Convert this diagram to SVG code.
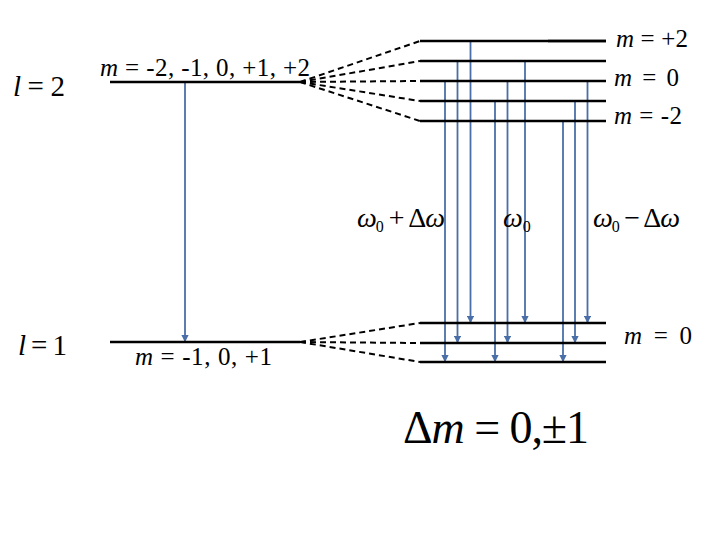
<svg xmlns="http://www.w3.org/2000/svg" width="720" height="540" viewBox="0 0 720 540">
<style>
.lvl{stroke:#000;stroke-width:2.5;fill:none}
.dash{stroke:#000;stroke-width:2;stroke-dasharray:6,4;fill:none}
.tr{stroke:#4a6fa8;stroke-width:1.8;fill:none;marker-end:url(#ah)}
text{font-family:"Liberation Serif","Times New Roman",serif;fill:#000}
.it{font-style:italic}
</style>
<defs>
<marker id="ah" viewBox="0 0 6 6" refX="5" refY="3" markerWidth="4" markerHeight="4" orient="auto">
<path d="M0,0 L6,3 L0,6 Z" fill="#4a6fa8"/>
</marker>
</defs>
<rect width="720" height="540" fill="#fff"/>
<g id="connectors">
<line class="dash" x1="300" y1="82" x2="420" y2="41"/>
<line class="dash" x1="300" y1="82" x2="420" y2="61"/>
<line class="dash" x1="300" y1="82" x2="420" y2="81"/>
<line class="dash" x1="300" y1="82" x2="420" y2="101"/>
<line class="dash" x1="300" y1="82" x2="420" y2="121"/>
<line class="dash" x1="300" y1="342" x2="420" y2="323"/>
<line class="dash" x1="300" y1="342" x2="420" y2="343"/>
<line class="dash" x1="300" y1="342" x2="420" y2="362"/>
<line class="tr" x1="185" y1="83" x2="185" y2="341"/>
<line class="tr" x1="445" y1="82" x2="445" y2="361"/>
<line class="tr" x1="457.5" y1="62" x2="457.5" y2="342"/>
<line class="tr" x1="470.5" y1="42" x2="470.5" y2="322"/>
<line class="tr" x1="495" y1="102" x2="495" y2="361"/>
<line class="tr" x1="507.5" y1="82" x2="507.5" y2="342"/>
<line class="tr" x1="525" y1="62" x2="525" y2="322"/>
<line class="tr" x1="563" y1="122" x2="563" y2="361"/>
<line class="tr" x1="575" y1="102" x2="575" y2="342"/>
<line class="tr" x1="587.5" y1="82" x2="587.5" y2="322"/>
</g>
<g id="l2">
<line class="lvl" x1="110" y1="82" x2="300" y2="82"/>
<text x="13" y="96" font-size="29" textLength="52" lengthAdjust="spacing"><tspan class="it">l</tspan> = 2</text>
<text x="100" y="76" font-size="25" textLength="210" lengthAdjust="spacing"><tspan class="it">m</tspan> = -2, -1, 0, +1, +2</text>
</g>
<g id="l1">
<line class="lvl" x1="110" y1="342" x2="300" y2="342"/>
<text x="18" y="355" font-size="29" textLength="49" lengthAdjust="spacing"><tspan class="it">l</tspan> = 1</text>
<text x="135" y="365" font-size="25" textLength="137" lengthAdjust="spacing"><tspan class="it">m</tspan> = -1, 0, +1</text>
</g>
<g id="upper-levels">
<line class="lvl" x1="420" y1="41" x2="606" y2="41"/>
<line class="lvl" x1="548" y1="41" x2="606" y2="41" stroke-width="3.5"/>
<line class="lvl" x1="420" y1="61" x2="606" y2="61"/>
<line class="lvl" x1="420" y1="81" x2="606" y2="81"/>
<line class="lvl" x1="420" y1="101" x2="606" y2="101"/>
<line class="lvl" x1="420" y1="121" x2="606" y2="121"/>
<text x="616" y="47" font-size="25" textLength="72" lengthAdjust="spacing"><tspan class="it">m</tspan> = +2</text>
<text x="614" y="86" font-size="25" textLength="65" lengthAdjust="spacing"><tspan class="it">m</tspan> = 0</text>
<text x="614" y="124" font-size="25" textLength="68" lengthAdjust="spacing"><tspan class="it">m</tspan> = -2</text>
</g>
<g id="lower-levels">
<line class="lvl" x1="420" y1="323" x2="606" y2="323"/>
<line class="lvl" x1="420" y1="343" x2="606" y2="343"/>
<line class="lvl" x1="420" y1="362" x2="606" y2="362"/>
<text x="624" y="344" font-size="25" textLength="68" lengthAdjust="spacing"><tspan class="it">m</tspan> = 0</text>
</g>
<g id="freq-labels">
<text x="357" y="227" font-size="28" textLength="88" lengthAdjust="spacing"><tspan class="it">ω</tspan><tspan font-size="16" dy="5">0</tspan><tspan dy="-5"> + Δ</tspan><tspan class="it">ω</tspan></text>
<text x="503" y="227" font-size="28"><tspan class="it">ω</tspan><tspan font-size="16" dy="5">0</tspan></text>
<text x="593" y="227" font-size="28" textLength="87" lengthAdjust="spacing"><tspan class="it">ω</tspan><tspan font-size="16" dy="5">0</tspan><tspan dy="-5"> − Δ</tspan><tspan class="it">ω</tspan></text>
</g>
<g id="rule">
<text x="403" y="443" font-size="46" textLength="186" lengthAdjust="spacing">Δ<tspan class="it">m</tspan> = 0,±1</text>
</g>
</svg>
